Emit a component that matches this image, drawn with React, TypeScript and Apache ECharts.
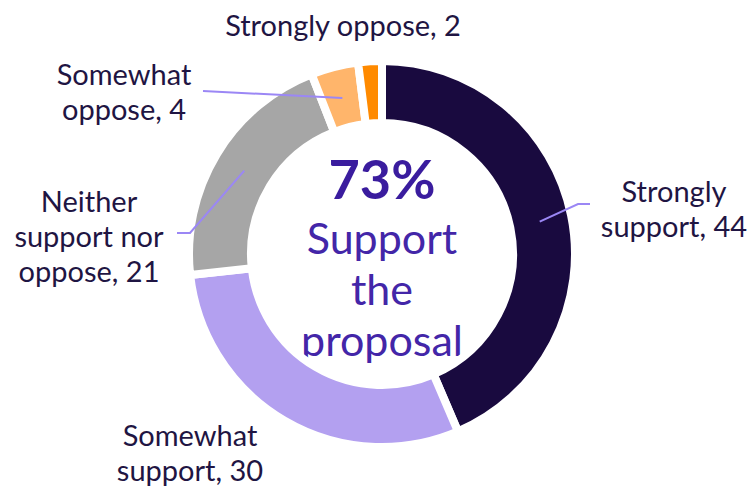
import React, { useEffect, useRef } from "react";
import * as echarts from "echarts";

const categories = [
  "Strongly support",
  "Somewhat support",
  "Neither support nor oppose",
  "Somewhat oppose",
  "Strongly oppose",
];
const values = [44, 30, 21, 4, 2];
const labelNames = [
  "Strongly\nsupport",
  "Somewhat\nsupport",
  "Neither\nsupport nor\noppose",
  "Somewhat\noppose",
  "Strongly oppose",
];
const colors = ["#190a3f", "#b3a0f0", "#a6a6a6", "#ffb56b", "#ff8a00"];
const centerValue = "73%";
const centerText = "Support\nthe\nproposal";

// layout only (pixels)
const CX = 382;
const CY = 254;
const BORDER = 8;
const R_IN = 135;
const R_OUT = 189;
const labelPos: number[][] = [
  [674, 208],
  [190, 452],
  [89, 235],
  [124, 91],
  [343, 24],
];
const leaderBends: (number[][] | null)[] = [
  [[578, 204], [590, 204]],
  null,
  [[190, 233], [177, 233]],
  [[203, 91]],
  null,
];

const FONT = "Lato, 'Open Sans', sans-serif";

export default function App() {
  const ref = useRef<HTMLDivElement>(null);
  useEffect(() => {
    document.body.style.margin = "0";
    if (!ref.current) return;
    const chart = echarts.init(ref.current, null, { renderer: "svg" });
    const total = values.reduce((a, b) => a + b, 0);
    const midAngles: number[] = [];
    let cum = 0;
    values.forEach((v) => {
      midAngles.push(((cum + v / 2) / total) * Math.PI * 2);
      cum += v;
    });
    const rMid = (R_IN + R_OUT) / 2 - 1;

    const leaders: any[] = [];
    leaderBends.forEach((bends, i) => {
      if (!bends) return;
      const a = midAngles[i];
      const start = [CX + rMid * Math.sin(a), CY - rMid * Math.cos(a)];
      leaders.push({
        type: "polyline",
        z: 100,
        shape: { points: [start, ...bends] },
        style: { stroke: "#9b87f5", lineWidth: 2, fill: "none" },
      });
    });

    chart.setOption({
      animation: false,
      series: [
        {
          type: "pie",
          center: [CX, CY],
          radius: [R_IN - BORDER / 2, R_OUT + BORDER / 2],
          startAngle: 90,
          clockwise: true,
          avoidLabelOverlap: false,
          itemStyle: { borderColor: "#ffffff", borderWidth: BORDER },
          label: {
            show: true,
            position: "outside",
            fontFamily: FONT,
            fontSize: 29,
            lineHeight: 35,
            color: "#1f1543",
            align: "center",
            formatter: (p: any) => `${labelNames[p.dataIndex]}, ${p.value}`,
          },
          labelLine: { show: false },
          labelLayout: (p: any) => {
            const i = p.dataIndex;
            return {
              x: labelPos[i][0],
              y: labelPos[i][1],
              align: "center",
              verticalAlign: "middle",
            };
          },
          data: categories.map((name, i) => ({
            name,
            value: values[i],
            itemStyle: { color: colors[i] },
          })),
        },
      ],
      graphic: [
        ...leaders,
        {
          type: "text",
          x: CX,
          y: 178,
          style: {
            text: centerValue,
            fontFamily: FONT,
            fontWeight: "bold",
            fontSize: 54,
            fill: "#3a1c9e",
            textAlign: "center",
            textVerticalAlign: "middle",
          },
        },
        {
          type: "text",
          x: CX,
          y: 288,
          style: {
            text: centerText,
            fontFamily: FONT,
            fontSize: 43,
            lineHeight: 51,
            fill: "#4326a8",
            textAlign: "center",
            textVerticalAlign: "middle",
          },
        },
      ],
    });
    return () => chart.dispose();
  }, []);
  return <div ref={ref} style={{ width: 754, height: 486 }} />;
}
